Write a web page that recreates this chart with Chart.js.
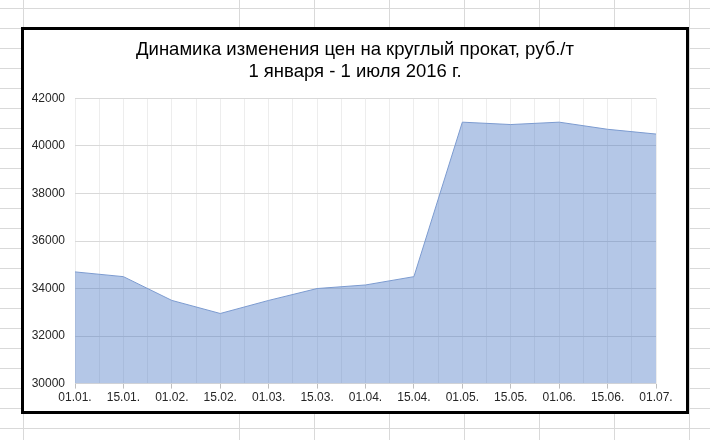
<!DOCTYPE html>
<html>
<head>
<meta charset="utf-8">
<script src="https://cdn.jsdelivr.net/npm/chart.js@4"></script>
<style>
  html, body { margin: 0; padding: 0; }
  body {
    width: 710px; height: 440px; overflow: hidden; position: relative;
    background-color: #fff;
    /* строки листа excel */
    background-image: linear-gradient(to bottom, #d9d9d9 1px, transparent 1px);
    background-size: 100% 20px;
    background-position: 0 8px;
  }
  /* столбцы листа */
  #cols {
    position: absolute; left: 239px; top: 0; width: 471px; height: 440px;
    background-image: linear-gradient(to right, #d9d9d9 1px, transparent 1px);
    background-size: 75px 100%;
  }
  #colA { position: absolute; left: 23px; top: 0; width: 1px; height: 440px; background: #d9d9d9; }
  #box {
    position: absolute; left: 21px; top: 27px; width: 668px; height: 387px;
    border: 3px solid #000; box-sizing: border-box; background: #fff;
  }
  #priceChart { position: absolute; left: 0; top: 0; }
</style>
</head>
<body>
<div id="cols"></div>
<div id="colA"></div>
<div id="box">
  <canvas id="priceChart" width="662" height="381"></canvas>
</div>
<script>
// Данные графика
const titleLines = ['Динамика изменения цен на круглый прокат, руб./т', '1 января - 1 июля 2016 г.'];
const dates = ['01.01.', '15.01.', '01.02.', '15.02.', '01.03.', '15.03.', '01.04.',
               '15.04.', '01.05.', '15.05.', '01.06.', '15.06.', '01.07.'];
const prices = [34700, 34500, 33500, 32950, 33500, 34000, 34150,
                34500, 41000, 40900, 41000, 40700, 40500];
const yMin = 30000, yMax = 42000, yStep = 2000;

const font = "'Liberation Sans', Arial, sans-serif";
const isWhole = v => Math.abs(v - Math.round(v)) < 1e-6;

// заголовок по центру всей рамки, а не области с отступами
const centerTitle = {
    id: 'centerTitle',
    afterLayout(c) {
        const t = c.titleBlock;
        if (t) { t.left = 0; t.right = c.width; t.width = c.width; }
    }
};

const ctx = document.getElementById('priceChart').getContext('2d');
const chart = new Chart(ctx, {
    type: 'line',
    data: {
        datasets: [{
            data: prices.map((p, i) => ({ x: i, y: p })),
            borderColor: '#7c9bd0',
            backgroundColor: 'rgba(68, 114, 196, 0.4)',
            borderWidth: 1,
            fill: 'origin',
            tension: 0,
            pointRadius: 0
        }]
    },
    options: {
        responsive: false,
        animation: false,
        layout: { padding: { left: 0, right: 30, top: 0, bottom: 4 } },
        scales: {
            x: {
                type: 'linear',
                min: 0,
                max: dates.length - 1,
                afterBuildTicks: axis => {
                    const t = [];
                    for (let v = 0; v <= dates.length - 1; v += 0.5) t.push({ value: v });
                    axis.ticks = t;
                },
                ticks: {
                    autoSkip: false,
                    maxRotation: 0,
                    padding: 2,
                    color: '#262626',
                    font: { family: font, size: 12 },
                    callback: v => isWhole(v) ? dates[Math.round(v)] : ''
                },
                grid: {
                    color: '#ededed',
                    tickLength: 5,
                    tickColor: c => (c.tick && isWhole(c.tick.value)) ? '#bfbfbf' : 'rgba(0,0,0,0)'
                },
                border: { display: false }
            },
            y: {
                min: yMin,
                max: yMax,
                afterFit: axis => { axis.width = 51; },
                ticks: {
                    stepSize: yStep,
                    padding: 10,
                    color: '#262626',
                    font: { family: font, size: 12 },
                    callback: v => String(v)
                },
                grid: { color: '#d9d9d9', drawTicks: false },
                border: { display: false }
            }
        },
        plugins: {
            legend: { display: false },
            tooltip: { enabled: false },
            title: {
                display: true,
                text: titleLines,
                color: '#000',
                font: { family: font, size: 18.5, weight: 'normal', lineHeight: 1.2 },
                padding: { top: 9, bottom: 15 }
            }
        }
    },
    plugins: [centerTitle]
});
</script>
</body>
</html>
